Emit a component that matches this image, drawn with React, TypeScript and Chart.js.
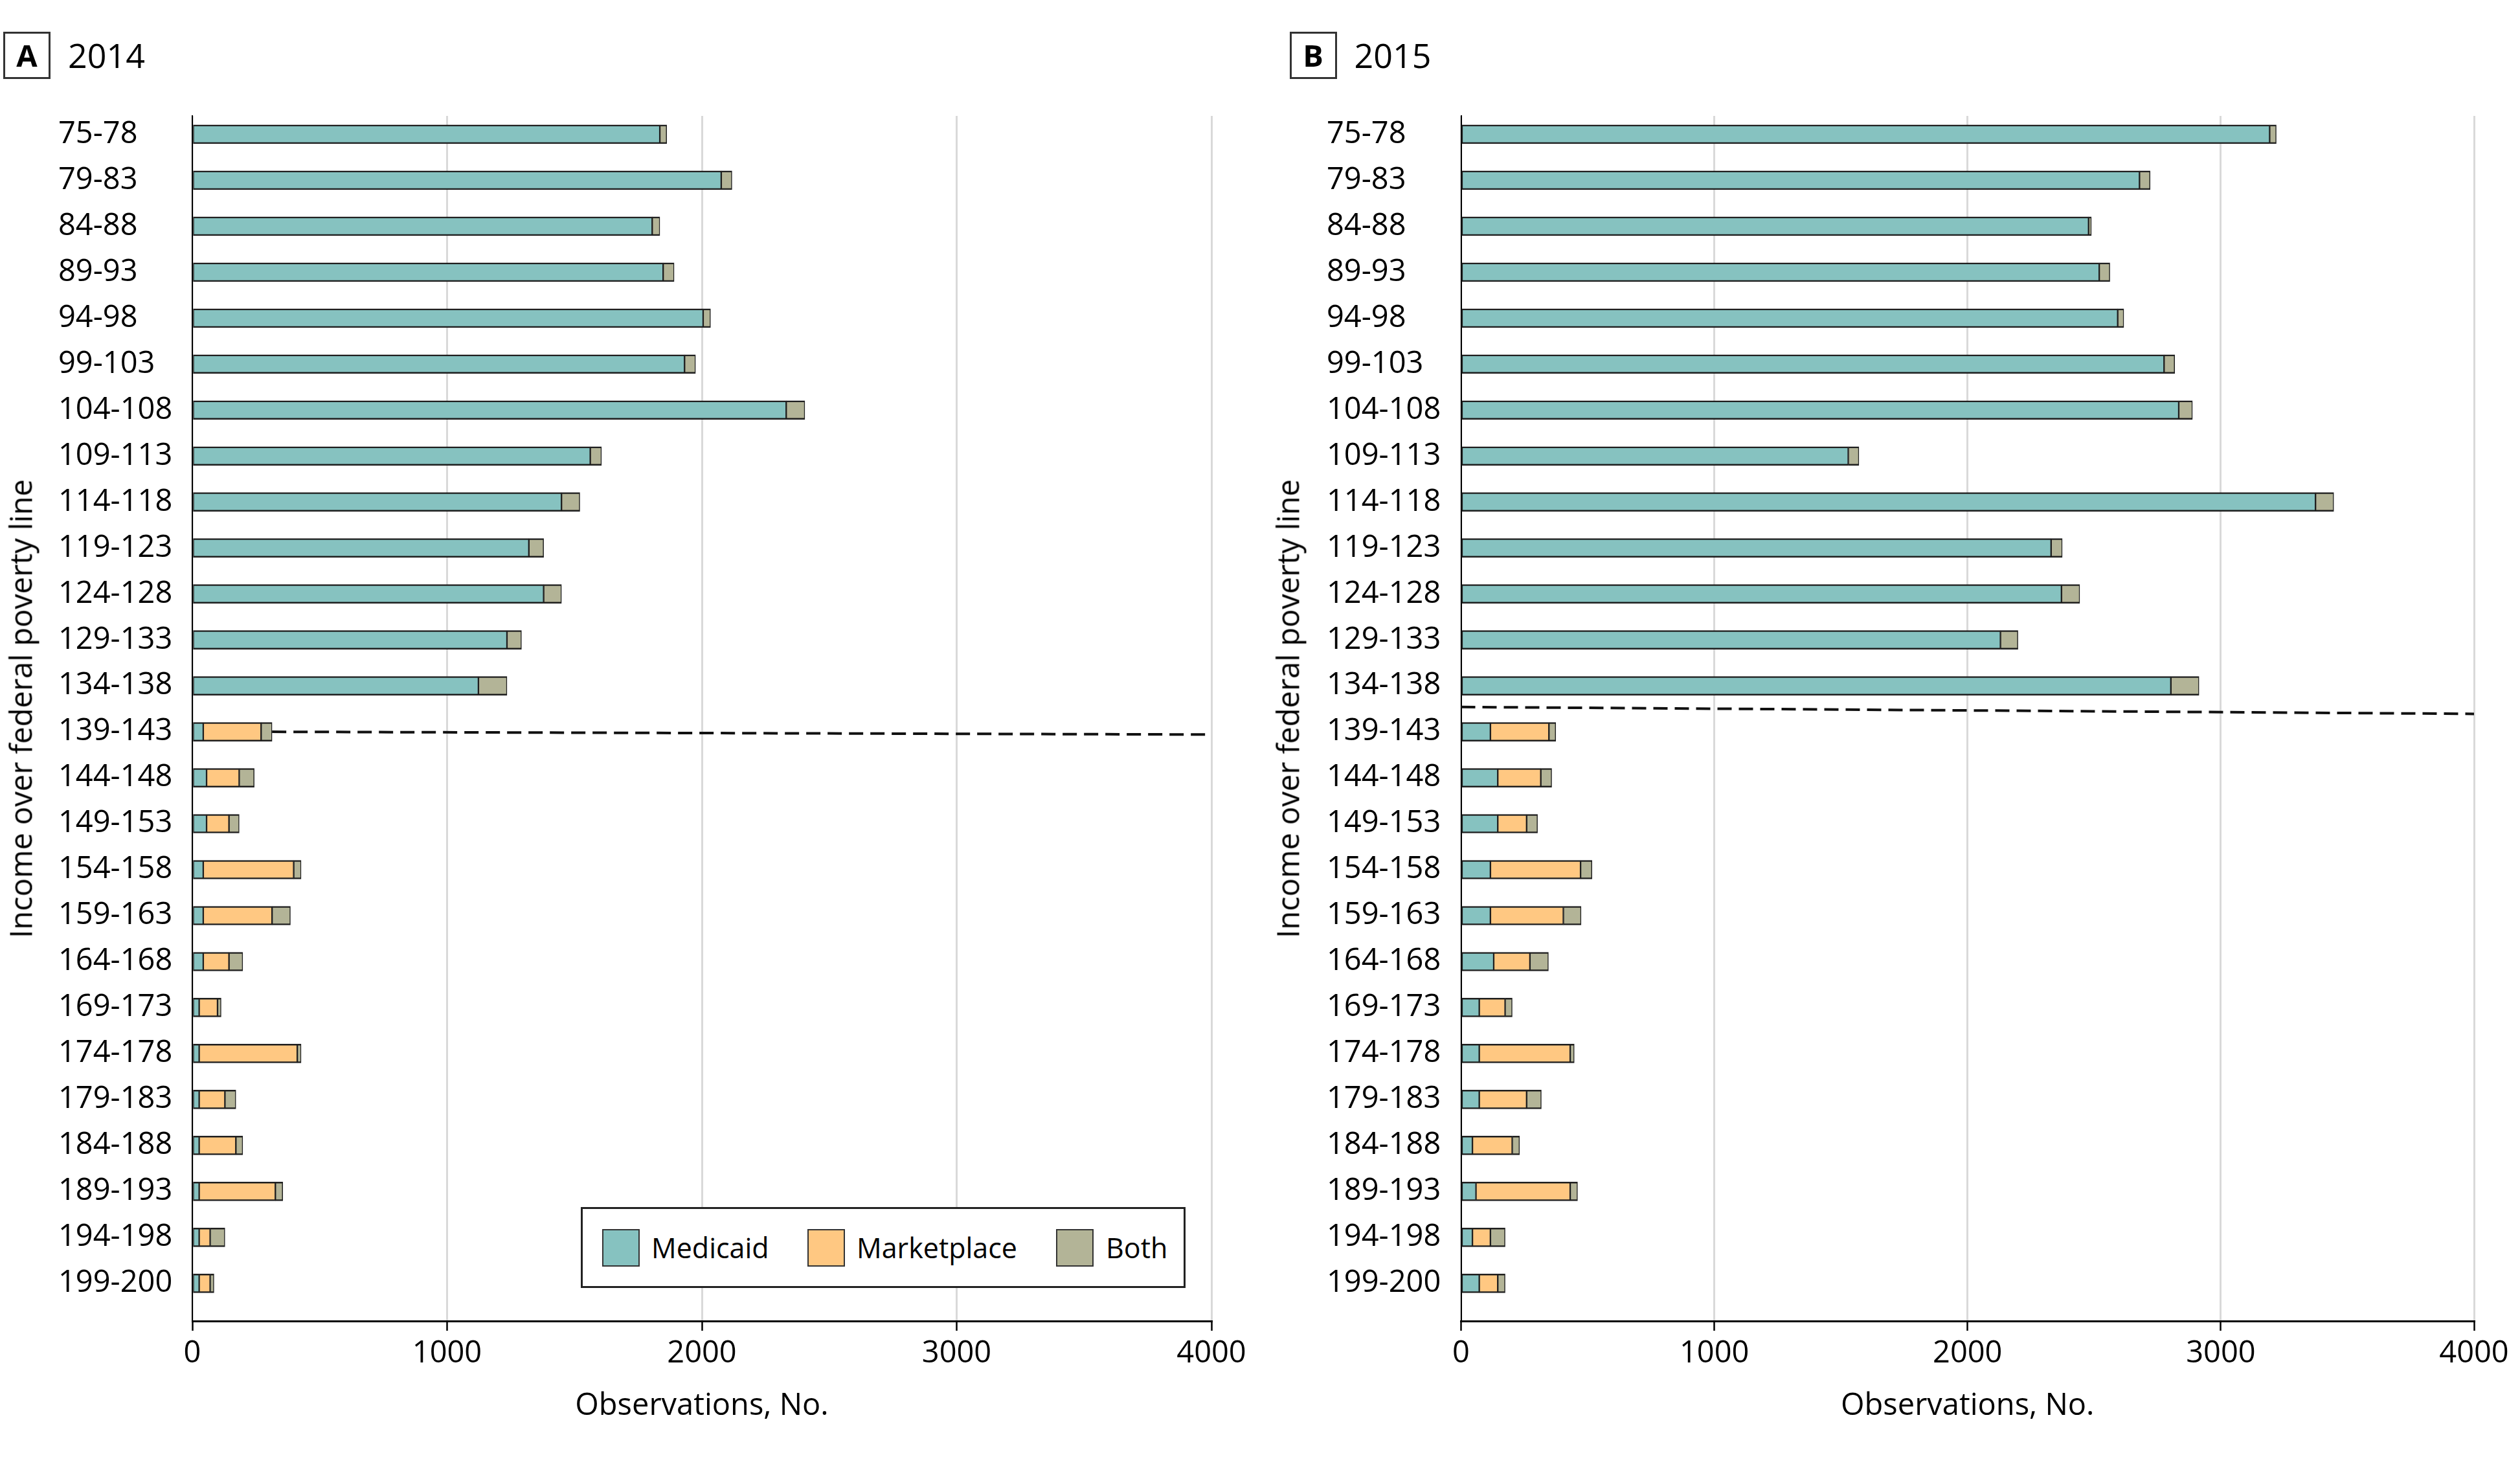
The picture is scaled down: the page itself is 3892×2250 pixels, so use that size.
import React, { useEffect, useRef } from "react";
import { Chart, registerables } from "chart.js";

Chart.register(...registerables);

const categories = [
  "75-78", "79-83", "84-88", "89-93", "94-98", "99-103", "104-108", "109-113",
  "114-118", "119-123", "124-128", "129-133", "134-138", "139-143", "144-148",
  "149-153", "154-158", "159-163", "164-168", "169-173", "174-178", "179-183",
  "184-188", "189-193", "194-198", "199-200",
];

const medicaid2014 = [1835, 2076, 1805, 1848, 2005, 1932, 2331, 1562, 1449, 1321, 1379, 1235, 1123, 43, 56, 56, 43, 43, 43, 27, 27, 27, 27, 27, 27, 27];
const marketplace2014 = [0, 0, 0, 0, 0, 0, 0, 0, 0, 0, 0, 0, 0, 227, 128, 88, 355, 270, 101, 72, 385, 101, 144, 299, 43, 43];
const both2014 = [27, 42, 30, 43, 29, 43, 73, 44, 72, 58, 70, 57, 112, 43, 59, 40, 29, 72, 54, 14, 15, 43, 27, 29, 58, 15];

const medicaid2015 = [3193, 2679, 2478, 2520, 2593, 2776, 2834, 1529, 3374, 2330, 2371, 2130, 2803, 116, 145, 145, 116, 116, 129, 72, 72, 72, 45, 59, 45, 72];
const marketplace2015 = [0, 0, 0, 0, 0, 0, 0, 0, 0, 0, 0, 0, 0, 231, 170, 114, 356, 288, 143, 102, 359, 187, 157, 372, 71, 73];
const both2015 = [26, 42, 11, 42, 24, 42, 54, 42, 72, 44, 72, 69, 111, 27, 43, 43, 45, 70, 73, 28, 16, 58, 29, 29, 58, 29];

const xTickValues = [0, 1000, 2000, 3000, 4000];

// eligibility cut-off dashed lines (value, category index)
const cutoffX2014 = [313, 4000];
const cutoffY2014 = [13, 13.06];
const cutoffX2015 = [0, 4000];
const cutoffY2015 = [12.46, 12.61];

const seriesNames = ["Medicaid", "Marketplace", "Both"];
const seriesColors = ["#86C2C0", "#FFC882", "#B3B497"];

const FONT = "'Open Sans', 'Noto Sans', sans-serif";

type PanelProps = {
  left: number;
  width: number;
  padLeft: number;
  padRight: number;
  yWidth: number;
  series: number[][];
  cutX: number[];
  cutY: number[];
};

function Panel({ left, width, padLeft, padRight, yWidth, series, cutX, cutY }: PanelProps) {
  const ref = useRef<HTMLCanvasElement | null>(null);
  useEffect(() => {
    if (!ref.current) return;
    const font = { family: FONT, size: 47 };
    const chart = new Chart(ref.current, {
      type: "bar",
      data: {
        datasets: [
          ...seriesNames.map((name, k) => ({
            type: "bar" as const,
            label: name,
            data: series[k].map((v, i) => ({ x: v, y: i })),
            backgroundColor: seriesColors[k],
            borderColor: "#1f1f1f",
            borderWidth: { top: 2.5, bottom: 2.5, left: 1.5, right: 1.5 },
            borderSkipped: false,
            barThickness: 29,
            stack: "bars",
            order: 2,
          })),
          {
            type: "line" as const,
            label: "cutoff",
            data: cutX.map((x, i) => ({ x, y: cutY[i] })),
            borderColor: "#111111",
            borderWidth: 4,
            borderDash: [22, 11],
            pointRadius: 0,
            fill: false,
            stack: "line",
            order: 1,
          },
        ],
      } as any,
      options: {
        indexAxis: "y",
        responsive: false,
        maintainAspectRatio: false,
        animation: false,
        layout: { padding: { left: padLeft, top: 179, right: padRight, bottom: 0 } },
        plugins: { legend: { display: false }, tooltip: { enabled: false } },
        scales: {
          x: {
            type: "linear",
            position: "bottom",
            stacked: true,
            bounds: "data",
            offset: false,
            min: 0,
            max: 4000,
            afterBuildTicks: (s: any) => {
              s.ticks = xTickValues.map((v) => ({ value: v }));
            },
            afterFit: (s: any) => {
              s.height = 210;
            },
            ticks: {
              font,
              color: "#000",
              padding: 7,
              maxRotation: 0,
              autoSkip: false,
              stepSize: 1000,
              callback: (v: any) => String(v),
            },
            grid: {
              offset: false,
              color: "#d9d9d9",
              lineWidth: 3,
              tickColor: "#000",
              tickLength: 15,
              tickWidth: 2.5,
            },
            border: { color: "#000", width: 3 },
            title: {
              display: true,
              text: "Observations, No.",
              font,
              color: "#000",
              padding: { top: 0, bottom: 50 },
            },
          },
          y: {
            type: "linear",
            position: "left",
            reverse: true,
            stacked: true,
            bounds: "data",
            offset: false,
            min: -0.4,
            max: 25.82,
            afterBuildTicks: (s: any) => {
              s.ticks = categories.map((_, i) => ({ value: i }));
            },
            afterFit: (s: any) => {
              s.width = yWidth;
            },
            ticks: {
              font,
              color: "#000",
              padding: 0,
              stepSize: 1,
              crossAlign: "far",
              autoSkip: false,
              callback: (v: any) => categories[v] ?? "",
            },
            grid: { display: false, offset: false },
            border: { color: "#000", width: 2 },
          },
        },
      } as any,
    });
    return () => chart.destroy();
  }, []);
  return (
    <canvas
      ref={ref}
      width={width}
      height={2250}
      style={{ position: "absolute", left, top: 0, width, height: 2250 }}
    />
  );
}

function PanelHeader({ left, letter, year }: { left: number; letter: string; year: string }) {
  return (
    <>
      <div
        style={{
          position: "absolute",
          left,
          top: 49,
          width: 73,
          height: 73,
          boxSizing: "border-box",
          border: "3px solid #333",
          display: "flex",
          alignItems: "center",
          justifyContent: "center",
          fontWeight: 700,
          fontSize: 47,
          lineHeight: "47px",
        }}
      >
        {letter}
      </div>
      <div
        style={{
          position: "absolute",
          left: left + 100,
          top: 59,
          fontSize: 52,
          lineHeight: "52px",
          whiteSpace: "nowrap",
        }}
      >
        {year}
      </div>
    </>
  );
}

function YTitle({ cx }: { cx: number }) {
  return (
    <div
      style={{
        position: "absolute",
        left: cx - 400,
        top: 1094.5 - 23.5,
        width: 800,
        height: 47,
        fontSize: 47,
        lineHeight: "47px",
        textAlign: "center",
        whiteSpace: "nowrap",
        transform: "rotate(-90deg)",
      }}
    >
      Income over federal poverty line
    </div>
  );
}

function Legend() {
  const swatchLeft = [30, 347, 731];
  const textLeft = [106, 423, 808];
  return (
    <div
      style={{
        position: "absolute",
        left: 897,
        top: 1864,
        width: 934,
        height: 125,
        boxSizing: "border-box",
        border: "3px solid #222",
        background: "#fff",
      }}
    >
      {seriesNames.map((name, k) => (
        <React.Fragment key={name}>
          <div
            style={{
              position: "absolute",
              left: swatchLeft[k],
              top: 31,
              width: 58,
              height: 58,
              boxSizing: "border-box",
              border: "2.5px solid #333",
              background: seriesColors[k],
            }}
          />
          <div
            style={{
              position: "absolute",
              left: textLeft[k],
              top: 30,
              height: 60,
              fontSize: 43,
              lineHeight: "60px",
              whiteSpace: "nowrap",
            }}
          >
            {name}
          </div>
        </React.Fragment>
      ))}
    </div>
  );
}

export default function App() {
  useEffect(() => {
    document.body.style.margin = "0";
  }, []);
  return (
    <div
      style={{
        position: "relative",
        width: 3892,
        height: 2250,
        overflow: "hidden",
        background: "#fff",
        fontFamily: FONT,
        color: "#000",
      }}
    >
      <Panel
        left={0}
        width={1950}
        padLeft={90}
        padRight={79}
        yWidth={207}
        series={[medicaid2014, marketplace2014, both2014]}
        cutX={cutoffX2014}
        cutY={cutoffY2014}
      />
      <Panel
        left={1950}
        width={1942}
        padLeft={99}
        padRight={71}
        yWidth={207.5}
        series={[medicaid2015, marketplace2015, both2015]}
        cutX={cutoffX2015}
        cutY={cutoffY2015}
      />
      <PanelHeader left={5} letter="A" year="2014" />
      <PanelHeader left={1991.5} letter="B" year="2015" />
      <YTitle cx={31.8} />
      <YTitle cx={1989} />
      <Legend />
    </div>
  );
}
